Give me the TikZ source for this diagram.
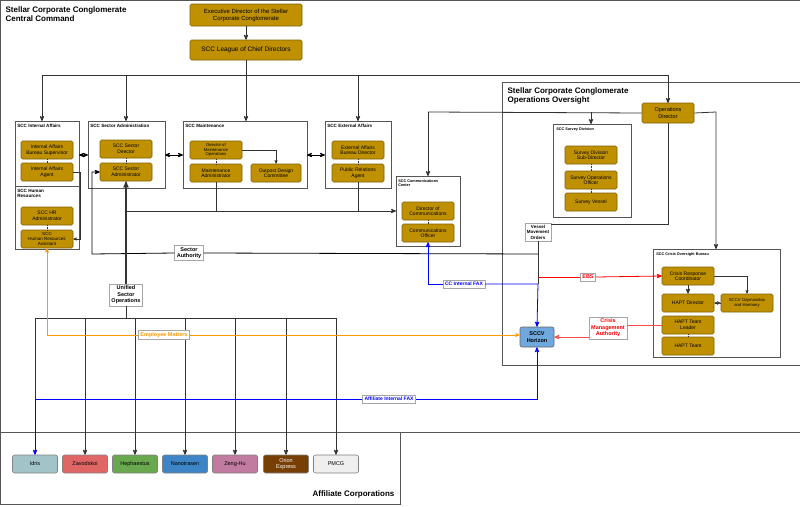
\documentclass[tikz,border=0pt]{standalone}
\usepackage{fontspec}
\setmainfont{Liberation Sans}
\usetikzlibrary{arrows}
\definecolor{gold}{HTML}{BF9000}
\definecolor{golddark}{HTML}{7F6000}
\definecolor{frame}{HTML}{555555}
\definecolor{feb}{HTML}{0000FF}
\definecolor{emp}{HTML}{FF9900}
\begin{document}
\begin{tikzpicture}[x=1pt,y=-1pt,>=stealth',semithick]
		\tikzstyle{post}=[draw=golddark,fill=gold,rounded corners=1.5pt,align=center,minimum width=52pt,minimum height=18pt,inner sep=1pt,font=\fontsize{5}{5.5}\selectfont]
		\tikzstyle{group}=[draw=frame,fill=white,thin]
		\tikzstyle{gtitle}=[anchor=north west,font=\fontsize{4.6}{5.2}\selectfont\bfseries,align=left,inner sep=1pt]
		\tikzstyle{tag}=[draw=gray!70,fill=white,align=center,font=\fontsize{5.5}{6.5}\selectfont\bfseries,inner sep=2pt]
		\tikzstyle{corp}=[draw=gray,rounded corners=2pt,minimum width=45pt,minimum height=18pt,align=center,inner sep=0pt,font=\fontsize{5.5}{6.5}\selectfont]
		\tikzstyle{link}=[->,thick,black!80]
		\tikzstyle{tiny}=[thin,densely dotted,black!80]
		\useasboundingbox (0,0) rectangle (800,506);
		% frames
		\draw[frame,thick] (0,0) rectangle (800,432);
		\draw[frame,thick] (0,432) rectangle (400,504);
		\draw[frame,thick,fill=white] (502,82) rectangle (800,365);
		\node[anchor=north west,font=\fontsize{8}{9.5}\selectfont\bfseries,align=left] (cctitle) at (2,3) {Stellar Corporate Conglomerate\\Central Command};
		\node[anchor=north west,font=\fontsize{8}{9.5}\selectfont\bfseries,align=left] (ootitle) at (504,84) {Stellar Corporate Conglomerate\\Operations Oversight};
		\node[anchor=south east,font=\fontsize{8}{9.5}\selectfont\bfseries] (aftitle) at (398,502) {Affiliate Corporations};
		% group boxes
		\draw[group] (15,121) rectangle (79,186);
		\draw[group] (15,186) rectangle (79,249);
		\draw[group] (88,121) rectangle (165,188);
		\draw[group] (183,121) rectangle (307,188);
		\draw[group] (325,121) rectangle (391,188);
		\draw[group] (396,176) rectangle (460,246);
		\draw[group] (553,124) rectangle (631,217);
		\draw[group] (653,249) rectangle (780,357);
		\node[gtitle] (ia) at (16,123) {SCC Internal Affairs};
		\node[gtitle] (hr) at (16,188) {SCC Human\\Resources};
		\node[gtitle] (sa) at (89,123) {SCC Sector Administration};
		\node[gtitle] (mt) at (184,123) {SCC Maintenance};
		\node[gtitle] (ea) at (326,123) {SCC External Affairs};
		\node[gtitle,font=\fontsize{3.8}{4.4}\selectfont\bfseries] (cc) at (397,178) {SCC Communications\\Center};
		\node[gtitle,font=\fontsize{3.8}{4.4}\selectfont\bfseries] (sd) at (555,126) {SCC Survey Division};
		\node[gtitle,font=\fontsize{3.8}{4.4}\selectfont\bfseries] (co) at (655,251) {SCC Crisis Oversight Bureau};
		% posts
		\node[post,minimum width=112pt,minimum height=22pt,font=\fontsize{6}{7}\selectfont] (exec) at (246,15) {Executive Director of the Stellar\\Corporate Conglomerate};
		\node[post,minimum width=112pt,minimum height=20pt,font=\fontsize{6.5}{7.5}\selectfont] (league) at (246,50) {SCC League of Chief Directors};
		\node[post] (iasup) at (47,150) {Internal Affairs\\Bureau Supervisor};
		\node[post] (iaagent) at (47,172) {Internal Affairs\\Agent};
		\node[post] (hradmin) at (47,216) {SCC HR\\Administrator};
		\node[post,font=\fontsize{4.5}{5}\selectfont] (hrassist) at (47,239) {SCC\\Human Resources\\Assistant};
		\node[post] (secdir) at (126,149) {SCC Sector\\Director};
		\node[post] (secadmin) at (126,172) {SCC Sector\\Administrator};
		\node[post,font=\fontsize{4.2}{4.8}\selectfont] (mtdir) at (216,150) {Director of\\Maintenance\\Operations};
		\node[post] (mtadmin) at (216,173) {Maintenance\\Administrator};
		\node[post,minimum width=50pt] (outpost) at (276,173) {Outpost Design\\Committee};
		\node[post] (eadir) at (358,150) {External Affairs\\Bureau Director};
		\node[post] (pr) at (358,173) {Public Relations\\Agent};
		\node[post] (comdir) at (428,211) {Director of\\Communications};
		\node[post] (comoff) at (428,233) {Communications\\Officer};
		\node[post,minimum height=20pt,font=\fontsize{5.5}{6.5}\selectfont] (opsdir) at (668,113) {Operations\\Director};
		\node[post] (survsub) at (591,155) {Survey Division\\Sub-Director};
		\node[post] (survoff) at (591,180) {Survey Operations\\Officer};
		\node[post] (survves) at (591,202) {Survey Vessel};
		\node[post] (crc) at (688,276) {Crisis Response\\Coordinator};
		\node[post] (haptdir) at (688,303) {HAPT Director};
		\node[post,font=\fontsize{4.2}{4.8}\selectfont] (ozy) at (747,303) {SCCV Ozymandius\\and Harmony};
		\node[post] (haptlead) at (688,325) {HAPT Team\\Leader};
		\node[post] (haptteam) at (688,346) {HAPT Team};
		\node[corp,draw=black!60,fill={rgb,255:red,111;green,168;blue,220},minimum width=34pt,minimum height=20pt,font=\fontsize{5.5}{6.5}\selectfont\bfseries] (horizon) at (537,337) {SCCV\\Horizon};
		% affiliates
		\node[corp,fill={rgb,255:red,162;green,196;blue,201}] (idris) at (35,464) {Idris};
		\node[corp,fill={rgb,255:red,224;green,102;blue,102}] (zavod) at (85,464) {Zavodskoi};
		\node[corp,fill={rgb,255:red,106;green,168;blue,79}] (heph) at (135,464) {Hephaestus};
		\node[corp,fill={rgb,255:red,61;green,133;blue,198}] (nt) at (185,464) {Nanotrasen};
		\node[corp,fill={rgb,255:red,194;green,123;blue,160}] (zeng) at (235,464) {Zeng-Hu};
		\node[corp,fill={rgb,255:red,120;green,63;blue,4},text=white] (orion) at (286,464) {Orion\\Express};
		\node[corp,fill={rgb,255:red,239;green,239;blue,239}] (pmcg) at (336,464) {PMCG};
		% command chain
		\draw[link] (exec) -- (league);
		\draw[thick,black!80] (league) -- (246,75);
		\draw[thick,black!80] (42,75) -- (668,75);
		\foreach \x/\y in {42/121,126/121,246/121,358/121,668/103}
			\draw[link] (\x,75) -- (\x,\y);
		\draw[<->,thick] (79,155) -- (88,155);
		\draw[<->,thick] (165,155) -- (183,155);
		\draw[<->,thick] (307,155) -- (325,155);
		\draw[link,thin] (mtdir.east) -| (outpost.north);
		\draw[link,thin] (iaagent.east) -- (80,172) |- (hrassist.east);
		\foreach \a/\b in {iasup/iaagent,hradmin/hrassist,secdir/secadmin,mtdir/mtadmin,eadir/pr,comdir/comoff,survsub/survoff,survoff/survves,haptlead/haptteam}
			\draw[tiny] (\a) -- (\b);
		\draw[link] (crc) -- (haptdir);
		\draw[link,thin] (crc.east) -| (ozy.north);
		\draw[<->,tiny] (haptdir) -- (ozy);
		% communications
		\draw[thick,black!80] (mtadmin) -- (216,211);
		\draw[thick,black!80] (pr) -- (358,211);
		\draw[link] (126,211) -- (396,211);
		\draw[thick,black!80] (opsdir.west) -- (428,112);
		\draw[link] (428,112) -- (428,176);
		\draw[link] (591,112) -- (591,124);
		\draw[link] (opsdir.east) -- (716,112) -- (716,249);
		\node[tag,font=\fontsize{4.5}{5.5}\selectfont\bfseries] (vmo) at (538,232) {Vessel\\Movement\\Orders};
		\draw[thick,black!80] (opsdir.south) |- (vmo.east |- 224,224);
		% sector authority and unified operations
		\node[tag] (auth) at (189,253) {Sector\\Authority};
		\draw[thick] (538,254) -- (auth.east);
		\draw[link,black] (auth.west) -- (92,254) -- (92,172) -- (secadmin.west);
		\node[tag] (uso) at (126,295) {Unified\\Sector\\Operations};
		\draw[link,very thick] (uso.north) -- (secadmin.south);
		\draw[thick,black!80] (uso.south) -- (126,318);
		\draw[thick,black!80] (35,318) -- (336,318);
		\foreach \c in {zavod,heph,nt,zeng,orion,pmcg}
			\draw[link] (\c.north |- 126,318) -- (\c.north);
		\draw[thick,black!80] (35,318) -- (35,400);
		% fax lines
		\draw[thick,black!80] (vmo.south) -- (538,284);
		\node[tag,text=feb,font=\fontsize{5}{6}\selectfont\bfseries] (ccfax) at (464,284) {CC Internal FAX};
		\draw[->,thick,feb] (ccfax.west) -| (comoff.south);
		\draw[->,thick,feb] (ccfax.east) -- (538,284) -- (horizon.north);
		\node[tag,text=feb,font=\fontsize{5}{6}\selectfont\bfseries] (afffax) at (389,399) {Affiliate Internal FAX};
		\draw[->,thick,feb] (afffax.east) -| (horizon.south);
		\draw[->,thick,feb] (afffax.west) -- (35,399) -- (idris.north);
		% crisis
		\node[tag,text=red] (ebs) at (588,277) {EBS};
		\draw[thick,red] (538,277) -- (ebs.west);
		\draw[->,thick,red] (ebs.east) -- (crc.west);
		\node[tag,text=red] (cma) at (608,328) {Crisis\\Management\\Authority};
		\draw[thick,red!70] (haptlead.west) -- (cma.east |- 325,325);
		\draw[->,thick,red!70] (cma.west |- 337,337) -- (horizon.east);
		% employee matters
		\node[tag,text=emp] (emp) at (164,335) {Employee Matters};
		\draw[->,emp] (emp.west) -- (47,335) -- (hrassist.south);
		\draw[->,emp] (emp.east) -- (horizon.west |- 335,335);
\end{tikzpicture}
\end{document}
